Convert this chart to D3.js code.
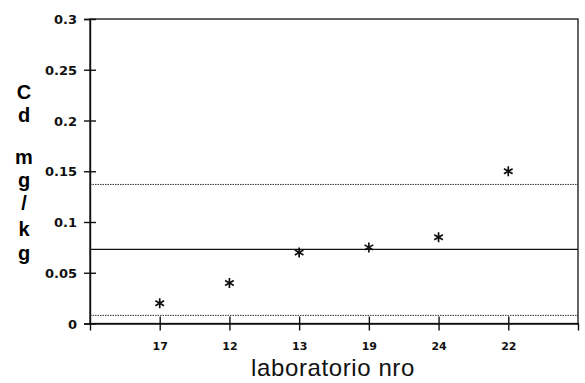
<!DOCTYPE html>
<html>
<head>
<meta charset="utf-8">
<script src="https://cdn.jsdelivr.net/npm/d3@7"></script>
<style>
  body { margin: 0; background: #fff; }
  svg { display: block; }
  .tk text { font-family: "DejaVu Sans", sans-serif; font-weight: bold; fill: #111; }
  .ty text { font-size: 13px; }
  .tx text { font-size: 11px; }
  .tk path, .tk line { stroke: #111; stroke-width: 1.4; }
</style>
</head>
<body>
<div class="container"></div>
<script>
var labs = ["17", "12", "13", "19", "24", "22"];
var cd = [0.02, 0.04, 0.07, 0.075, 0.085, 0.15];
var meanLine = 0.073;
var limits = [0.137, 0.008];
var yTicks = [0, 0.05, 0.1, 0.15, 0.2, 0.25, 0.3];
var yTickLabels = ["0", "0.05", "0.1", "0.15", "0.2", "0.25", "0.3"];
var yTitle = ["C", "d", "m", "g", "/", "k", "g"];

const WIDTH = 585;
const HEIGHT = 383;
const LEFT = 90, RIGHT = 578, TOP = 19, BOTTOM = 323.5;

var xScale = d3.scaleLinear().domain([0, 7]).range([LEFT, RIGHT]);
var yScale = d3.scaleLinear().domain([0, 0.3]).range([BOTTOM, TOP]);

var svg = d3.select('.container').append('svg')
    .attr('width', WIDTH)
    .attr('height', HEIGHT);

// frame
svg.append('rect')
    .attr('x', LEFT).attr('y', TOP)
    .attr('width', RIGHT - LEFT).attr('height', BOTTOM - TOP)
    .attr('fill', 'none').attr('stroke', '#111').attr('stroke-width', 1.3);

// reference lines
svg.append('line')
    .attr('x1', LEFT).attr('x2', RIGHT)
    .attr('y1', yScale(meanLine)).attr('y2', yScale(meanLine))
    .attr('stroke', '#111').attr('stroke-width', 1.3);

svg.selectAll('.lim').data(limits).enter().append('line')
    .attr('x1', LEFT).attr('x2', RIGHT)
    .attr('y1', d => yScale(d)).attr('y2', d => yScale(d))
    .attr('stroke', '#333').attr('stroke-width', 1)
    .attr('stroke-dasharray', '1.5,1');

// y axis
var yAxis = d3.axisLeft(yScale)
    .tickValues(yTicks)
    .tickFormat((d, i) => yTickLabels[i])
    .tickSizeOuter(0)
    .tickSize(6)
    .tickPadding(7);

var gy = svg.append('g').attr('class', 'tk ty')
    .attr('transform', `translate(${LEFT},0)`)
    .call(yAxis);
gy.selectAll('.tick line').attr('x1', 6).attr('x2', -6);
gy.selectAll('.tick text').attr('dy', '0.36em');

// x axis
var xAxis = d3.axisBottom(xScale)
    .tickValues(d3.range(1, labs.length + 1))
    .tickFormat(d => labs[d - 1])
    .tickSizeOuter(0)
    .tickSize(7)
    .tickPadding(12);

var gx = svg.append('g').attr('class', 'tk tx')
    .attr('transform', `translate(0,${BOTTOM})`)
    .call(xAxis);
gx.selectAll('.tick line').attr('y1', -7).attr('y2', 7);

// asterisk markers
var star = function (r) {
    var p = '';
    for (var k = 0; k < 3; k++) {
        var a = Math.PI / 2 + k * Math.PI / 3;
        var dx = r * Math.cos(a), dy = r * Math.sin(a);
        p += `M${-dx},${-dy}L${dx},${dy}`;
    }
    return p;
};

svg.append('g').selectAll('path')
    .data(cd)
    .enter().append('path')
    .attr('transform', (d, i) => `translate(${xScale(i + 1)},${yScale(d)})`)
    .attr('d', star(5))
    .attr('stroke', '#111')
    .attr('stroke-width', 1.7)
    .attr('fill', 'none');

// y title, stacked letters
var titleY = [99, 122, 164, 187, 210, 236, 260];
svg.append('g').selectAll('text')
    .data(yTitle)
    .enter().append('text')
    .attr('x', 24)
    .attr('y', (d, i) => titleY[i])
    .attr('text-anchor', 'middle')
    .style('font-family', '"Liberation Sans", Arial, sans-serif')
    .style('font-weight', 'bold')
    .style('font-size', '20px')
    .text(d => d);

// x title
svg.append('text')
    .attr('x', 333)
    .attr('y', 376)
    .attr('text-anchor', 'middle')
    .style('font-family', '"Liberation Sans", Arial, sans-serif')
    .style('font-size', '24px')
    .style('letter-spacing', '0.6px')
    .style('fill', '#111')
    .text('laboratorio nro');
</script>
</body>
</html>
